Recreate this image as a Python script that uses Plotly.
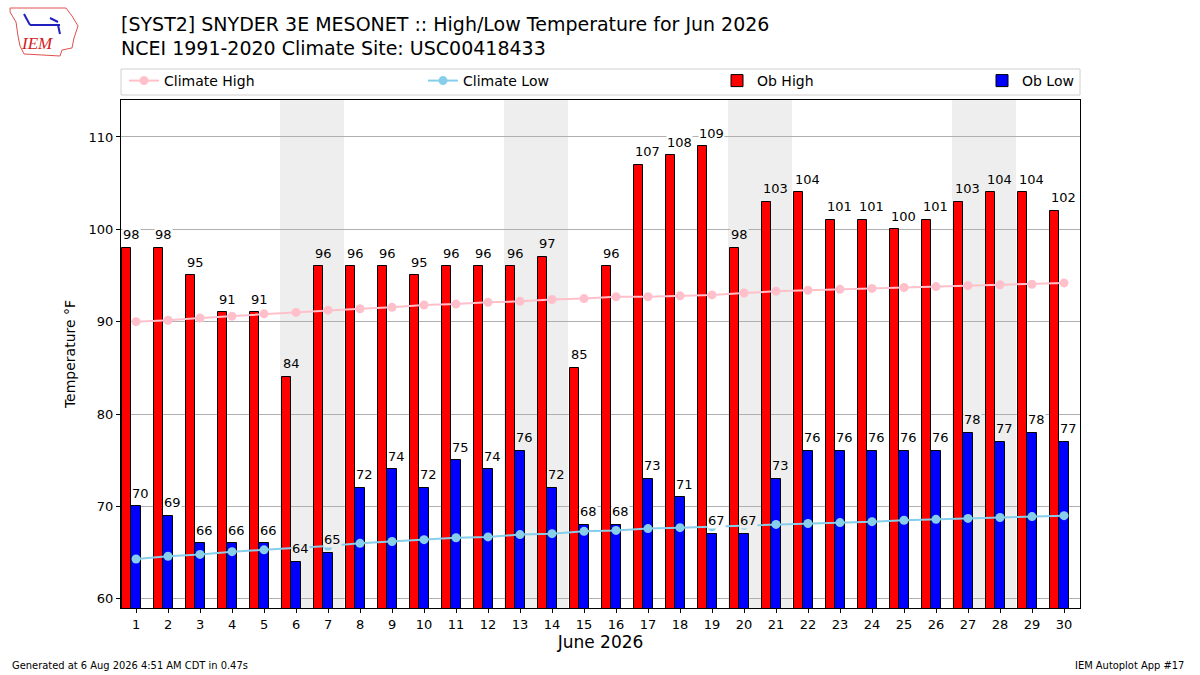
import plotly.graph_objects as go

days = list(range(1, 31))
ob_high = [98, 98, 95, 91, 91, 84, 96, 96, 96, 95, 96, 96, 96, 97, 85,
           96, 107, 108, 109, 98, 103, 104, 101, 101, 100, 101, 103, 104, 104, 102]
ob_low = [70, 69, 66, 66, 66, 64, 65, 72, 74, 72, 75, 74, 76, 72, 68,
          68, 73, 71, 67, 67, 73, 76, 76, 76, 76, 76, 78, 77, 78, 77]
clim_high = [90.0, 90.15, 90.4, 90.6, 90.85, 91.0, 91.25, 91.4, 91.55, 91.8,
             91.9, 92.1, 92.2, 92.4, 92.5, 92.7, 92.7, 92.8, 92.9, 93.1,
             93.3, 93.4, 93.5, 93.6, 93.7, 93.8, 93.9, 94.0, 94.05, 94.2]
clim_low = [64.3, 64.6, 64.8, 65.1, 65.3, 65.5, 65.7, 66.0, 66.2, 66.4,
            66.6, 66.7, 66.95, 67.05, 67.3, 67.4, 67.6, 67.7, 67.8, 67.95,
            68.05, 68.15, 68.25, 68.35, 68.5, 68.6, 68.7, 68.8, 68.9, 69.0]
weekends = [(6, 7), (13, 14), (20, 21), (27, 28)]
y_ticks = [60, 70, 80, 90, 100, 110]

title1 = "[SYST2] SNYDER 3E MESONET :: High/Low Temperature for Jun 2026"
title2 = "NCEI 1991-2020 Climate Site: USC00418433"
footer_left = "Generated at 6 Aug 2026 4:51 AM CDT in 0.47s"
footer_right = "IEM Autoplot App #17"

FONT = "DejaVu Sans"
HIGH_OFF, LOW_OFF, BAR_W = -0.45, -0.15, 0.3
weekend_days = {d for pair in weekends for d in range(pair[0], pair[1] + 1)}

fig = go.Figure()

fig.add_trace(go.Bar(
    x=days, y=ob_high, name="Ob High", width=BAR_W, offset=HIGH_OFF,
    marker=dict(color="#ff0000", line=dict(color="black", width=1)),
    legend="legend3",
))
fig.add_trace(go.Bar(
    x=days, y=ob_low, name="Ob Low", width=BAR_W, offset=LOW_OFF,
    marker=dict(color="#0000ff", line=dict(color="black", width=1)),
    legend="legend4",
))
fig.add_trace(go.Scatter(
    x=days, y=clim_high, name="Climate High", mode="lines+markers",
    line=dict(color="#ffc0cb", width=2), marker=dict(color="#ffc0cb", size=9),
    legend="legend",
))
fig.add_trace(go.Scatter(
    x=days, y=clim_low, name="Climate Low", mode="lines+markers",
    line=dict(color="#87ceeb", width=2), marker=dict(color="#87ceeb", size=9),
    legend="legend2",
))

# value labels
annotations = []
for vals, off in ((ob_high, HIGH_OFF), (ob_low, LOW_OFF)):
    for d, v in zip(days, vals):
        annotations.append(dict(
            x=d + off, y=v + 0.5, xref="x", yref="y", text=str(v),
            xanchor="left", yanchor="bottom", showarrow=False,
            font=dict(size=13, family=FONT, color="black"),
            bgcolor="#eeeeee" if d in weekend_days else "white", borderpad=0,
        ))

shapes = []
for a, b in weekends:
    shapes.append(dict(type="rect", xref="x", yref="paper", x0=a - 0.5, x1=b + 0.5,
                       y0=0, y1=1, fillcolor="#eeeeee", line=dict(width=0), layer="below"))
# legend frame
shapes.append(dict(type="rect", xref="paper", yref="paper", x0=0, x1=1,
                   y0=1 + (100 - 95) / 508, y1=1 + (100 - 69) / 508,
                   line=dict(color="#d0d0d0", width=1), fillcolor="rgba(255,255,255,0)", layer="above"))

def leg(xpx):
    return dict(orientation="h", x=(xpx - 121) / 959, y=1.0 + 19 / 508, xanchor="left",
                yanchor="middle", bgcolor="rgba(0,0,0,0)", borderwidth=0,
                font=dict(size=14, family=FONT))

fig.update_layout(
    width=1200, height=675,
    margin=dict(l=121, r=120, t=100, b=67),
    plot_bgcolor="white", paper_bgcolor="white",
    font=dict(family=FONT, size=13, color="black"),
    barmode="overlay", bargap=0,
    shapes=shapes,
    showlegend=True,
    legend=leg(124), legend2=leg(423), legend3=leg(717), legend4=leg(982),
    xaxis=dict(range=[0.53, 30.5], tickmode="array", tickvals=days,
               ticktext=[str(d) for d in days], showgrid=False, zeroline=False,
               ticks="outside", ticklen=4, tickcolor="black",
               showline=True, linecolor="black", linewidth=1, mirror=True,
               title=dict(text="June 2026", font=dict(size=17), standoff=5),
               tickfont=dict(size=13)),
    yaxis=dict(range=[59.0, 114.0], tickmode="array", tickvals=y_ticks,
               showgrid=True, gridcolor="#b0b0b0", gridwidth=1, zeroline=False,
               ticks="outside", ticklen=4, tickcolor="black",
               showline=True, linecolor="black", linewidth=1, mirror=True,
               title=dict(text="Temperature °F", font=dict(size=14), standoff=9),
               tickfont=dict(size=13)),
    annotations=annotations + [
        dict(text=title1, xref="paper", yref="paper", x=(119 - 121) / 959, y=1 + (100 - 24) / 508,
             xanchor="left", yanchor="middle", showarrow=False, font=dict(size=19)),
        dict(text=title2, xref="paper", yref="paper", x=(119 - 121) / 959, y=1 + (100 - 48) / 508,
             xanchor="left", yanchor="middle", showarrow=False, font=dict(size=19)),
        dict(text=footer_left, xref="paper", yref="paper", x=-111 / 959, y=-(665 - 608) / 508,
             xanchor="left", yanchor="middle", showarrow=False,
             font=dict(size=11, family="DejaVu Sans Condensed")),
        dict(text=footer_right, xref="paper", yref="paper", x=1 + 106 / 959, y=-(665 - 608) / 508,
             xanchor="right", yanchor="middle", showarrow=False,
             font=dict(size=11, family="DejaVu Sans Condensed")),
        dict(text="<i>IEM</i>", xref="paper", yref="paper", x=-84 / 959, y=1 + (100 - 44) / 508,
             xanchor="center", yanchor="middle", showarrow=False,
             font=dict(size=17, family="Liberation Serif", color="#d42020")),
    ],
)

# rough IEM logo outline (state outline) in paper coords
def px(x, y):
    return ((x - 121) / 959, 1 - (y - 100) / 508)

pts = [(10, 8), (66, 8), (72, 16), (78, 26), (74, 38), (72, 48), (62, 50), (60, 56),
       (24, 54), (20, 46), (18, 36), (16, 22), (10, 12)]
path = "M " + " L ".join(f"{px(x, y)[0]:.4f},{px(x, y)[1]:.4f}" for x, y in pts) + " Z"
fig.add_shape(type="path", xref="paper", yref="paper", path=path,
              line=dict(color="#e05050", width=1), fillcolor="rgba(0,0,0,0)")
for (x0, y0, x1, y1) in [(30, 25, 60, 25), (24, 14, 30, 25), (58, 25, 60, 34), (50, 18, 58, 22)]:
    a, b = px(x0, y0)
    c, d = px(x1, y1)
    fig.add_shape(type="line", xref="paper", yref="paper", x0=a, y0=b, x1=c, y1=d,
                  line=dict(color="#2020c0", width=2))

fig.write_html("out.html", config={"displayModeBar": False},
               post_script="document.body.style.margin='0';document.body.style.padding='0';")
